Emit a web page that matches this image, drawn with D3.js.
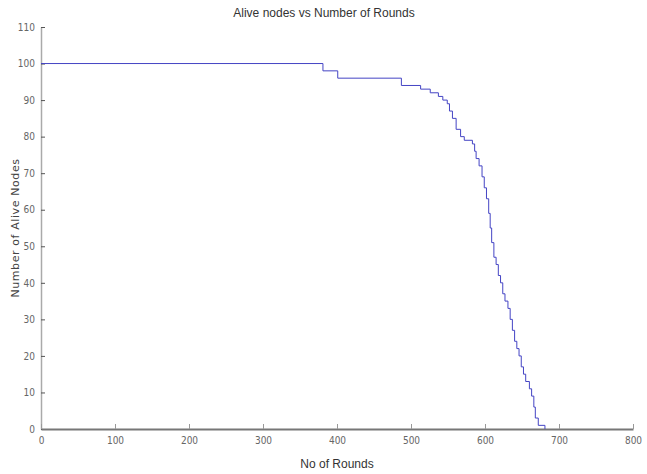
<!DOCTYPE html>
<html>
<head>
<meta charset="utf-8">
<script src="https://cdn.jsdelivr.net/npm/d3@7"></script>
<style>
  body { margin: 0; background: #fff; }
  .tick text { font-family: "Liberation Sans Narrow", "DejaVu Sans Condensed", sans-serif; fill: #666; font-stretch: condensed; }
</style>
</head>
<body>
<div id="chart"></div>
<script>
// rounds at which the alive count changes, and the count from that round on
const rounds = [0, 381, 401, 487, 513, 526, 537, 543, 549, 552, 556, 561, 567, 572, 583, 586, 588, 592, 596, 599,
  602, 605, 607, 609, 612, 615, 618, 621, 624, 627, 631, 634, 637, 640, 643, 646, 649, 652, 655, 660,
  663, 666, 668, 672, 681];
const alive = [100, 98, 96, 94, 93, 92, 91, 90, 89, 87, 85, 82, 80, 79, 78, 76, 74, 72, 69, 66,
  63, 59, 55, 51, 47, 45, 42, 40, 37, 35, 33, 30, 27, 24, 22, 20, 17, 15, 13, 11,
  9, 6, 3, 1, 0];
const xTicks = [0, 100, 200, 300, 400, 500, 600, 700, 800];
const yTicks = [0, 10, 20, 30, 40, 50, 60, 70, 80, 90, 100, 110];

const W = 647, H = 474;
const m = {left: 41, right: 14, top: 27, bottom: 45};
const svg = d3.select('#chart').append('svg').attr('width', W).attr('height', H);

const x = d3.scaleLinear().domain([0, 800]).range([m.left, W - m.right]);
const y = d3.scaleLinear().domain([0, 110]).range([H - m.bottom, m.top]);

// y axis, ticks pointing inward
const gy = svg.append('g').attr('transform', `translate(${m.left},0)`)
  .call(d3.axisLeft(y).tickValues(yTicks).tickSize(0).tickPadding(6));
gy.select('.domain').attr('stroke', '#aaa').attr('stroke-width', 1.5);
gy.selectAll('.tick line').attr('x2', 4).attr('stroke', '#555');
gy.selectAll('.tick text').style('font-size', '10px');

// x axis, ticks pointing inward
const gx = svg.append('g').attr('transform', `translate(0,${H - m.bottom})`)
  .call(d3.axisBottom(x).tickValues(xTicks).tickSize(0).tickPadding(8));
gx.select('.domain').attr('stroke', '#777').attr('stroke-width', 2);
gx.selectAll('.tick line').attr('y2', -5).attr('stroke', '#999');
gx.selectAll('.tick text').style('font-size', '10px');

// the step curve
const pts = rounds.map((r, i) => [r, alive[i]]);
const line = d3.line().x(d => x(d[0])).y(d => y(d[1])).curve(d3.curveStepAfter);
svg.append('path').datum(pts).attr('d', line)
  .attr('fill', 'none').attr('stroke', '#4444c4').attr('stroke-width', 1);

// titles
svg.append('text').text('Alive nodes vs Number of Rounds')
  .attr('x', 324).attr('y', 17).attr('text-anchor', 'middle')
  .style('font-family', '"Liberation Sans Narrow", sans-serif').style('font-stretch', 'condensed')
  .style('font-size', '12px').attr('fill', '#333');
svg.append('text').text('No of Rounds')
  .attr('x', 337).attr('y', 468).attr('text-anchor', 'middle')
  .style('font-family', '"Liberation Sans Narrow", sans-serif').style('font-stretch', 'condensed')
  .style('font-size', '12px').attr('fill', '#333');
svg.append('text').text('Number of Alive Nodes')
  .attr('transform', 'translate(19,228) rotate(-90)').attr('text-anchor', 'middle')
  .style('font-family', 'DejaVu Sans, sans-serif').style('font-size', '11px').style('letter-spacing', '0.6px').attr('fill', '#444');
</script>
</body>
</html>
